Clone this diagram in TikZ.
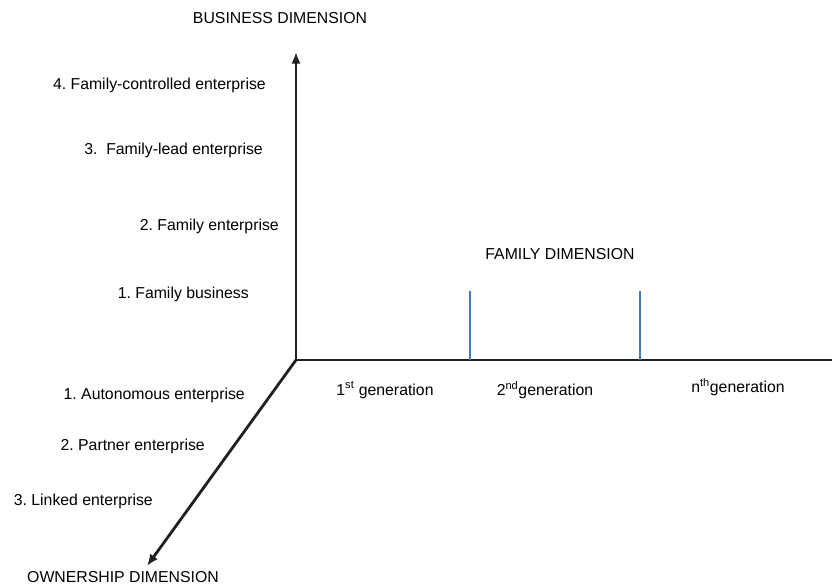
\documentclass[tikz,border=0pt]{standalone}
\usepackage{fontspec}
\setmainfont{Liberation Sans}
\usetikzlibrary{arrows.meta}
\frenchspacing
\tikzset{
  axis/.style={line width=2.4pt, draw={rgb,255:red,35;green,31;blue,32}},
  axisarrow/.style={axis, -{Latex[length=10pt,width=8pt]}},
  genline/.style={line width=1.2pt, draw={rgb,255:red,70;green,120;blue,190}},
  lbl/.style={inner sep=0pt, anchor=east},
  ctr/.style={inner sep=0pt}
}
\begin{document}
\begin{tikzpicture}[x=0.03cm, y=-0.03cm, font=\fontsize{13.5}{16}\selectfont]
        \useasboundingbox (0,0) rectangle (832,585);

        \coordinate (o) at (296,360);
        \coordinate (btop) at (296,52);
        \coordinate (fend) at (832,360);
        \coordinate (otip) at (147,566);

        \draw[axisarrow] (o) to (btop);
        \draw[axis] (o) to (fend);
        \draw[axisarrow] (o) to (otip);

        \coordinate (g1top) at (470,291);
        \coordinate (g1) at (470,360);
        \coordinate (g2top) at (640,291);
        \coordinate (g2) at (640,360);
        \draw[genline] (g1top) to (g1);
        \draw[genline] (g2top) to (g2);

        \node[ctr] (business) at (280,18) {BUSINESS DIMENSION};
        \node[lbl] (b4) at (266,85) {4. Family-controlled enterprise};
        \node[lbl] (b3) at (263,150) {3.\ \ Family-lead enterprise};
        \node[lbl] (b2) at (279,226) {2. Family enterprise};
        \node[lbl] (b1) at (249,294) {1. Family business};

        \node[ctr] (family) at (560,254) {FAMILY DIMENSION};
        \node[ctr] (gen1) at (385,390) {1\textsuperscript{st} generation};
        \node[ctr] (gen2) at (545,390) {2\textsuperscript{nd}generation};
        \node[ctr] (genn) at (738,387) {n\textsuperscript{th}generation};

        \node[lbl] (o1) at (245,395) {1. Autonomous enterprise};
        \node[lbl] (o2) at (205,446) {2. Partner enterprise};
        \node[lbl] (o3) at (153,501) {3. Linked enterprise};
        \node[ctr] (ownership) at (123,577) {OWNERSHIP DIMENSION};
    \end{tikzpicture}
\end{document}
